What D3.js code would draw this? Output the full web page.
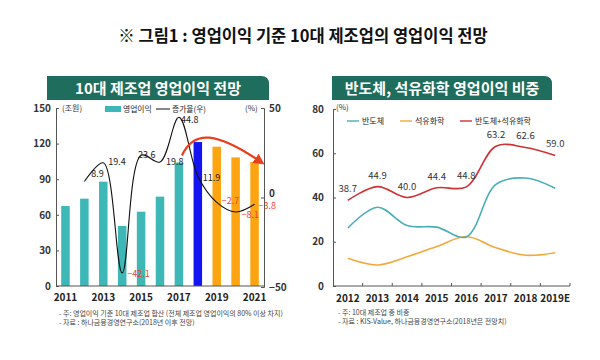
<!DOCTYPE html>
<html><head><meta charset="utf-8">
<script src="https://cdn.jsdelivr.net/npm/d3@7/dist/d3.min.js"></script>
<style>
body{margin:0;background:#fff;}
svg{display:block;font-family:"Noto Sans CJK KR","Noto Sans",sans-serif;}
</style></head><body>
<svg id="c" width="600" height="360"></svg>
<script>
// ---------- data ----------
const years1 = ["2011","2012","2013","2014","2015","2016","2017","2018","2019","2020","2021"];
const profit = [67.4, 73.6, 87.9, 50.6, 62.6, 75.3, 104, 121.3, 117.4, 108.4, 104.5];
const growthYears = ["2012","2013","2014","2015","2016","2017","2018","2019","2020","2021"];
const growth = [8.9, 19.4, -42.1, 23.6, 19.8, 44.8, 11.9, -2.7, -8.1, -3.8];
const leftTicks = [0, 30, 60, 90, 120, 150];
const rightTicks = [-50, 0, 50];
const xLabels1 = ["2011","2013","2015","2017","2019","2021"];

const years2 = ["2012","2013","2014","2015","2016","2017","2018","2019E"];
const semi = [26.2, 35.6, 27.3, 26.6, 22.2, 45.9, 48.8, 44.2];
const petro = [12.5, 9.5, 13.2, 17.8, 22.4, 17.3, 13.9, 15.0];
const total = [38.7, 44.9, 40.0, 44.4, 44.8, 63.2, 62.6, 59.0];
const ticks2 = [0, 20, 40, 60, 80];

const svg = d3.select("#c");
const KR = '"Noto Sans CJK KR","Noto Sans",sans-serif';

// ---------- main title ----------
svg.append("text").attr("x", 303).attr("y", 42).attr("text-anchor", "middle")
  .attr("font-size", 16.5).attr("font-weight", 700).attr("fill", "#111")
  .text("※ 그림1 : 영업이익 기준 10대 제조업의 영업이익 전망");

// ---------- title boxes ----------
function titleBox(x, y, w, h, label) {
  const r = 8;
  svg.append("path")
    .attr("d", `M${x},${y} H${x + w - r} Q${x + w},${y} ${x + w},${y + r} V${y + h} H${x} Z`)
    .attr("fill", "#1f6e5d");
  svg.append("text").attr("x", x + w / 2).attr("y", y + h / 2 + 5.5).attr("text-anchor", "middle")
    .attr("font-size", 15).attr("font-weight", 700).attr("fill", "#fff").text(label);
}
titleBox(47, 76, 222, 24, "10대 제조업 영업이익 전망");
titleBox(332, 76, 220, 24, "반도체, 석유화학 영업이익 비중");

// ---------- left chart ----------
const x1 = d3.scaleBand().domain(years1).range([56, 264]).paddingInner(0.55).paddingOuter(0.275);
const yL = d3.scaleLinear().domain([0, 150]).range([286, 108]);
const yR = d3.scaleLinear().domain([-50, 50]).range([287, 108]);
const cx1 = d => x1(d) + x1.bandwidth() / 2;

const g1 = svg.append("g");
const barColor = d => d === "2018" ? "#1414f0" : (+d >= 2019 ? "#fca411" : "#3db8b6");
g1.selectAll("rect.bar").data(years1).join("rect")
  .attr("x", d => x1(d)).attr("width", x1.bandwidth())
  .attr("y", (d, i) => yL(profit[i])).attr("height", (d, i) => yL(0) - yL(profit[i]))
  .attr("fill", barColor);

// axes
const axL = g1.append("g").attr("transform", "translate(56,0)")
  .call(d3.axisLeft(yL).tickValues(leftTicks).tickSize(-3).tickPadding(5));
const axR = g1.append("g").attr("transform", "translate(264,0)")
  .call(d3.axisRight(yR).tickValues(rightTicks).tickSize(-3).tickPadding(5));
[axL, axR].forEach(a => {
  a.select(".domain").attr("stroke", "#555");
  a.selectAll(".tick line").attr("stroke", "#555");
  a.selectAll("text").attr("font-size", 10).attr("font-weight", 600).attr("fill", "#333").attr("font-family", KR);
});
axR.selectAll(".tick text").filter(d => d === 0).attr("dy", "-0.1em");
const axB = g1.append("g").attr("transform", "translate(0,286)")
  .call(d3.axisBottom(x1).tickValues(xLabels1).tickSize(0).tickPadding(8));
axB.select(".domain").attr("stroke", "#555").attr("d", "M56,0H264");
axB.selectAll("text").attr("font-size", 10).attr("font-weight", 700).attr("fill", "#222").attr("font-family", KR);

// growth line
const line1 = d3.line().x(d => cx1(d[0])).y(d => yR(d[1])).curve(d3.curveCatmullRom.alpha(0.5));
const gData = growthYears.map((y, i) => [y, growth[i]]);
g1.append("path").datum(gData).attr("d", line1).attr("fill", "none").attr("stroke", "#111").attr("stroke-width", 1.1);

const off1 = [[7, -5], [5, 2], [5, 4], [-3, 3], [6, 3], [2, 6], [5, 5], [5, 2], [6, 6], [4, 5]];
g1.selectAll("text.gl").data(gData).join("text")
  .attr("x", (d, i) => cx1(d[0]) + off1[i][0]).attr("y", (d, i) => yR(d[1]) + off1[i][1])
  .attr("font-size", 9).attr("fill", d => d[1] < 0 ? "#e8463a" : "#222")
  .text(d => d3.format(".1f")(d[1]));

// red arrow
const defs = svg.append("defs");
defs.append("marker").attr("id", "ah").attr("viewBox", "0 0 10 10").attr("refX", 7).attr("refY", 5)
  .attr("markerWidth", 5).attr("markerHeight", 5).attr("orient", "auto")
  .append("path").attr("d", "M0,0 L10,5 L0,10 Z").attr("fill", "#e8401c");
const ax0 = cx1("2017") + 3, ax1 = x1("2021") + x1.bandwidth() + 3;
g1.append("path")
  .attr("d", `M${ax0},${yL(110)} C${ax0 + 12},${yL(132)} ${ax0 + 35},${yL(130)} ${ax1},${yL(104)}`)
  .attr("fill", "none").attr("stroke", "#e8401c").attr("stroke-width", 2.2).attr("marker-end", "url(#ah)");

// units & legend
g1.append("text").attr("x", 62).attr("y", 111).attr("font-size", 8).attr("fill", "#333").text("(조원)");
g1.append("text").attr("x", 245).attr("y", 111).attr("font-size", 8).attr("fill", "#333").text("(%)");
g1.append("rect").attr("x", 105).attr("y", 106).attr("width", 16).attr("height", 6).attr("fill", "#3db8b6");
g1.append("text").attr("x", 123).attr("y", 112).attr("font-size", 7.8).attr("fill", "#222").text("영업이익");
g1.append("line").attr("x1", 156).attr("x2", 170).attr("y1", 109).attr("y2", 109).attr("stroke", "#111").attr("stroke-width", 1);
g1.append("text").attr("x", 172).attr("y", 112).attr("font-size", 7.8).attr("fill", "#222").text("증가율(우)");

// notes
g1.append("text").attr("x", 59).attr("y", 316).attr("font-size", 7).attr("fill", "#444")
  .text("- 주: 영업이익 기준 10대 제조업 합산 (전체 제조업 영업이익의 80% 이상 차지)");
g1.append("text").attr("x", 59).attr("y", 325).attr("font-size", 7).attr("fill", "#444")
  .text("- 자료 :  하나금융경영연구소(2018년 이후 전망)");

// ---------- right chart ----------
const x2 = d3.scaleBand().domain(years2).range([333, 570]);
const y2 = d3.scaleLinear().domain([0, 80]).range([286, 109]);
const cx2 = d => x2(d) + x2.bandwidth() / 2;
const g2 = svg.append("g");

const ay2 = g2.append("g").attr("transform", "translate(333,0)")
  .call(d3.axisLeft(y2).tickValues(ticks2).tickSize(-3).tickPadding(9));
ay2.select(".domain").attr("stroke", "#555");
ay2.selectAll(".tick line").attr("stroke", "#555");
ay2.selectAll("text").attr("font-size", 10).attr("font-weight", 600).attr("fill", "#333").attr("font-family", KR);

const ax2 = g2.append("g").attr("transform", "translate(0,286)")
  .call(d3.axisBottom(x2).tickSize(0).tickPadding(9));
ax2.select(".domain").attr("stroke", "#555").attr("d", "M333,0H570");
ax2.selectAll("text").attr("font-size", 10).attr("font-weight", 700).attr("fill", "#222").attr("font-family", KR);
g2.selectAll("line.bt").data(years2).join("line")
  .attr("x1", d => x2(d) + x2.bandwidth()).attr("x2", d => x2(d) + x2.bandwidth())
  .attr("y1", 286).attr("y2", 283).attr("stroke", "#555");

const line2 = vals => d3.line().x((d, i) => cx2(years2[i])).y(d => y2(d)).curve(d3.curveCatmullRom.alpha(0.5))(vals);
g2.append("path").attr("d", line2(petro)).attr("fill", "none").attr("stroke", "#f5a83a").attr("stroke-width", 1.6);
g2.append("path").attr("d", line2(semi)).attr("fill", "none").attr("stroke", "#4aaeb8").attr("stroke-width", 1.6);
g2.append("path").attr("d", line2(total)).attr("fill", "none").attr("stroke", "#cf3236").attr("stroke-width", 1.6);

g2.selectAll("text.tl").data(total).join("text")
  .attr("x", (d, i) => cx2(years2[i])).attr("y", d => y2(d) - 8).attr("text-anchor", "middle")
  .attr("font-size", 9.5).attr("fill", "#333").text(d => d3.format(".1f")(d));

g2.append("text").attr("x", 336).attr("y", 110).attr("font-size", 8).attr("fill", "#333").text("(%)");
const leg2 = [["반도체", "#4aaeb8", 347], ["석유화학", "#f5a83a", 400], ["반도체+석유화학", "#cf3236", 460]];
leg2.forEach(([t, c, x]) => {
  g2.append("line").attr("x1", x).attr("x2", x + 12).attr("y1", 121).attr("y2", 121).attr("stroke", c).attr("stroke-width", 1.4);
  g2.append("text").attr("x", x + 15).attr("y", 124).attr("font-size", 8).attr("fill", "#222").text(t);
});

g2.append("text").attr("x", 338).attr("y", 315).attr("font-size", 7).attr("fill", "#444")
  .text("- 주: 10대 제조업 중 비중");
g2.append("text").attr("x", 338).attr("y", 324).attr("font-size", 7).attr("fill", "#444")
  .text("- 자료 :  KIS-Value, 하나금융경영연구소(2018년은 전망치)");
</script>
</body></html>
